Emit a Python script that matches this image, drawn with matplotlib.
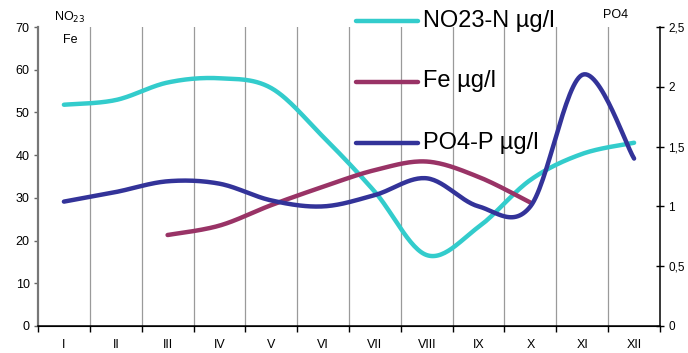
import numpy as np
from matplotlib import pyplot as plt
from matplotlib.lines import Line2D
from matplotlib.ticker import FuncFormatter

plt.rcParams["font.family"] = ["Liberation Sans", "DejaVu Sans"]

months = ["I", "II", "III", "IV", "V", "VI", "VII", "VIII", "IX", "X", "XI", "XII"]

# monthly values, left scale
no23_n = [51.8, 52.9, 57.0, 58.0, 55.7, 44.3, 31.4, 16.6, 23.2, 34.2, 40.3, 42.9]
fe = [None, None, 21.3, 23.5, 28.3, 32.6, 36.5, 38.5, 34.9, 28.9, None, None]
# monthly values, right scale
po4_p = [1.04, 1.12, 1.21, 1.19, 1.05, 1.00, 1.095, 1.235, 1.00, 1.00, 2.10, 1.40]

CYAN = "#33CCCC"
MAROON = "#993366"
NAVY = "#333399"


def smooth(xs, ys, n=30):
    """Cubic Bezier through the points, tangents as in Catmull-Rom."""
    pts = np.column_stack([xs, ys]).astype(float)
    out = [pts[0]]
    t = np.linspace(0, 1, n)[1:, None]
    for i in range(len(pts) - 1):
        p0 = pts[max(i - 1, 0)]
        p1, p2 = pts[i], pts[i + 1]
        p3 = pts[min(i + 2, len(pts) - 1)]
        c1 = p1 + (p2 - p0) / 6
        c2 = p2 - (p3 - p1) / 6
        seg = ((1 - t) ** 3) * p1 + 3 * ((1 - t) ** 2) * t * c1 \
            + 3 * (1 - t) * t ** 2 * c2 + t ** 3 * p2
        out.extend(seg)
    out = np.array(out)
    return out[:, 0], out[:, 1]


def plot_series(ax, values, color):
    xs = [i + 0.5 for i, v in enumerate(values) if v is not None]
    ys = [v for v in values if v is not None]
    sx, sy = smooth(xs, ys)
    ax.plot(sx, sy, color=color, lw=3.2, solid_capstyle="round", zorder=3)


fig = plt.figure(figsize=(6.88, 3.53), dpi=100)
ax = fig.add_axes([38 / 688, 27 / 353, 622 / 688, 299 / 353])
ax2 = ax.twinx()

ax.set_xlim(0, 12)
ax.set_ylim(0, 70)
ax2.set_ylim(0, 2.5)

# month boundaries as vertical grid
for b in range(1, 12):
    ax.axvline(b, color="#9a9a9a", lw=0.9, zorder=1)

ax.set_xticks(range(0, 13))
ax.set_xticklabels([])
ax.set_xticks([i + 0.5 for i in range(12)], minor=True)
ax.set_xticklabels(months, minor=True)
ax.tick_params(axis="x", which="major", direction="out", length=4, width=1)
ax.tick_params(axis="x", which="minor", length=0, pad=9.5, labelsize=9)

ax.set_yticks(range(0, 71, 10))
ax.tick_params(axis="y", direction="out", length=3, width=1, labelsize=9,
               color="#666666", pad=3)
ax2.set_yticks([0, 0.5, 1, 1.5, 2, 2.5])
ax2.yaxis.set_major_formatter(
    FuncFormatter(lambda v, _: f"{v:g}".replace(".", ",")))
ax2.tick_params(axis="y", direction="inout", length=6, width=1, labelsize=8.5,
                pad=3)

for a in (ax, ax2):
    a.spines["top"].set_visible(False)
ax.spines["left"].set_color("#777777")
ax.spines["left"].set_linewidth(1.6)
ax.spines["right"].set_visible(False)
ax2.spines["left"].set_visible(False)
ax2.spines["right"].set_color("black")
ax2.spines["right"].set_linewidth(1.1)
ax.spines["bottom"].set_linewidth(1.1)

plot_series(ax, no23_n, CYAN)
plot_series(ax, fe, MAROON)
plot_series(ax2, po4_p, NAVY)

# axis captions
fig.text(70 / 688, 1 - 17 / 353, "NO$_{23}$", ha="center", va="center",
         fontsize=9)
fig.text(70 / 688, 1 - 40 / 353, "Fe", ha="center", va="center", fontsize=9)
fig.text(616 / 688, 1 - 15 / 353, "PO4", ha="center", va="center",
         fontsize=9)

# legend drawn by hand in figure space
legend_items = [("NO23-N µg/l", CYAN), ("Fe µg/l", MAROON), ("PO4-P µg/l", NAVY)]
for k, (label, color) in enumerate(legend_items):
    yy = 1 - (20.5 + 61 * k) / 353
    fig.add_artist(Line2D([356 / 688, 418 / 688], [yy, yy], color=color,
                          lw=3.2, solid_capstyle="round"))
    fig.text(423 / 688, yy, label, ha="left", va="center", fontsize=17)

fig.savefig("out.png", dpi=100)
